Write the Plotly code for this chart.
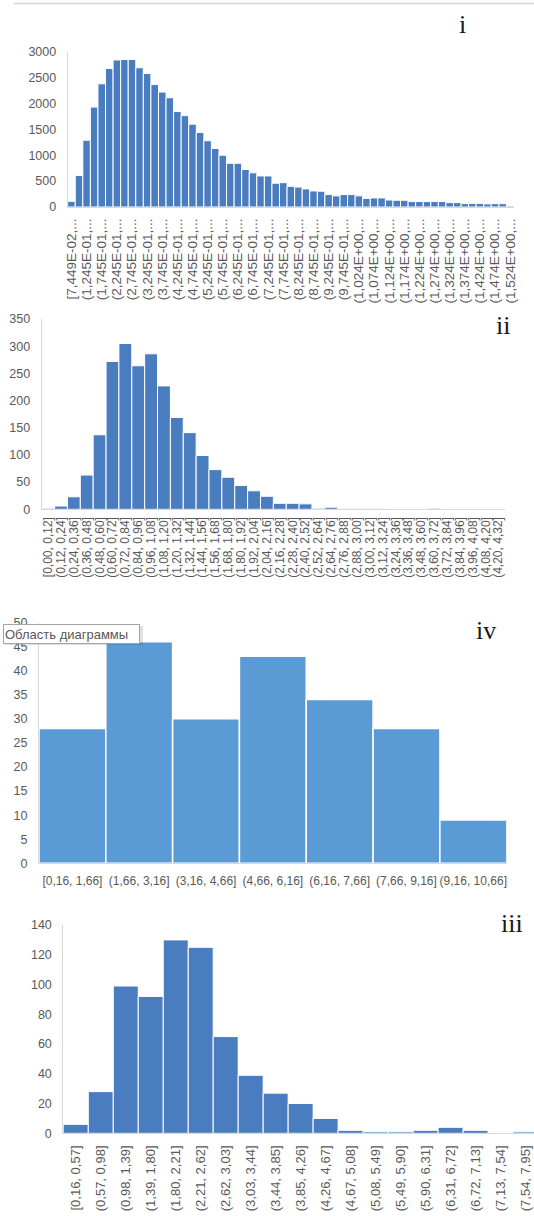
import plotly.graph_objects as go

W, H = 534, 1216

# ---------------- Panel i ----------------
bins_i = [
    "[7,449E-02,...", "(9,949E-02,...", "(1,245E-01,...", "(1,495E-01,...", "(1,745E-01,...",
    "(1,995E-01,...", "(2,245E-01,...", "(2,495E-01,...", "(2,745E-01,...", "(2,995E-01,...",
    "(3,245E-01,...", "(3,495E-01,...", "(3,745E-01,...", "(3,995E-01,...", "(4,245E-01,...",
    "(4,495E-01,...", "(4,745E-01,...", "(4,995E-01,...", "(5,245E-01,...", "(5,495E-01,...",
    "(5,745E-01,...", "(5,995E-01,...", "(6,245E-01,...", "(6,495E-01,...", "(6,745E-01,...",
    "(6,995E-01,...", "(7,245E-01,...", "(7,495E-01,...", "(7,745E-01,...", "(7,995E-01,...",
    "(8,245E-01,...", "(8,495E-01,...", "(8,745E-01,...", "(8,995E-01,...", "(9,245E-01,...",
    "(9,495E-01,...", "(9,745E-01,...", "(9,995E-01,...", "(1,024E+00,...", "(1,049E+00,...",
    "(1,074E+00,...", "(1,099E+00,...", "(1,124E+00,...", "(1,149E+00,...", "(1,174E+00,...",
    "(1,199E+00,...", "(1,224E+00,...", "(1,249E+00,...", "(1,274E+00,...", "(1,299E+00,...",
    "(1,324E+00,...", "(1,349E+00,...", "(1,374E+00,...", "(1,399E+00,...", "(1,424E+00,...",
    "(1,449E+00,...", "(1,474E+00,...", "(1,499E+00,...", "(1,524E+00,...",
]
counts_i = [
    110, 610, 1290, 1930, 2380, 2675, 2840, 2850, 2850, 2690,
    2580, 2365, 2220, 2110, 1845, 1765, 1600, 1440, 1280, 1130,
    1000, 845, 845, 725, 660, 600, 600, 460, 470, 400,
    385, 350, 310, 305, 240, 215, 240, 240, 215, 165,
    175, 175, 135, 130, 130, 105, 105, 105, 105, 105,
    85, 85, 65, 70, 70, 60, 65, 65, 20,
]
yticks_i = [0, 500, 1000, 1500, 2000, 2500, 3000]

# ---------------- Panel ii ----------------
bins_ii = [
    "[0,00, 0,12]", "(0,12, 0,24]", "(0,24, 0,36]", "(0,36, 0,48]", "(0,48, 0,60]", "(0,60, 0,72]",
    "(0,72, 0,84]", "(0,84, 0,96]", "(0,96, 1,08]", "(1,08, 1,20]", "(1,20, 1,32]", "(1,32, 1,44]",
    "(1,44, 1,56]", "(1,56, 1,68]", "(1,68, 1,80]", "(1,80, 1,92]", "(1,92, 2,04]", "(2,04, 2,16]",
    "(2,16, 2,28]", "(2,28, 2,40]", "(2,40, 2,52]", "(2,52, 2,64]", "(2,64, 2,76]", "(2,76, 2,88]",
    "(2,88, 3,00]", "(3,00, 3,12]", "(3,12, 3,24]", "(3,24, 3,36]", "(3,36, 3,48]", "(3,48, 3,60]",
    "(3,60, 3,72]", "(3,72, 3,84]", "(3,84, 3,96]", "(3,96, 4,08]", "(4,08, 4,20]", "(4,20, 4,32]",
]
counts_ii = [
    2, 6, 23, 63, 137, 272, 305, 264, 286, 227, 169, 141,
    99, 73, 59, 44, 34, 24, 11, 11, 10, 2, 4, 1,
    1, 1, 1, 0, 0, 0, 2, 0, 0, 0, 0, 0,
]
yticks_ii = [0, 50, 100, 150, 200, 250, 300, 350]

# ---------------- Panel iv ----------------
bins_iv = ["[0,16, 1,66]", "(1,66, 3,16]", "(3,16, 4,66]", "(4,66, 6,16]",
           "(6,16, 7,66]", "(7,66, 9,16]", "(9,16, 10,66]"]
counts_iv = [28, 46, 30, 43, 34, 28, 9]
yticks_iv = [0, 5, 10, 15, 20, 25, 30, 35, 40, 45, 50]

# ---------------- Panel iii ----------------
bins_iii = [
    "[0,16, 0,57]", "(0,57, 0,98]", "(0,98, 1,39]", "(1,39, 1,80]", "(1,80, 2,21]",
    "(2,21, 2,62]", "(2,62, 3,03]", "(3,03, 3,44]", "(3,44, 3,85]", "(3,85, 4,26]",
    "(4,26, 4,67]", "(4,67, 5,08]", "(5,08, 5,49]", "(5,49, 5,90]", "(5,90, 6,31]",
    "(6,31, 6,72]", "(6,72, 7,13]", "(7,13, 7,54]", "(7,54, 7,95]",
]
counts_iii = [6, 28, 99, 92, 130, 125, 65, 39, 27, 20, 10, 2, 1, 1, 2, 4, 2, 0, 1]
yticks_iii = [0, 20, 40, 60, 80, 100, 120, 140]

panel_labels = ["i", "ii", "iv", "iii"]
tooltip_text = "Область диаграммы"

BLUE = "#4a7cc0"
BLUE_LIGHT = "#5b9bd5"
GREY_TXT = "#595959"
AXIS_LINE = "#d9d9d9"
FONT = "Liberation Sans"


def px_x(p):
    return p / W


def px_y(p):
    return 1 - p / H


fig = go.Figure()
fig.add_trace(go.Bar(x=bins_i, y=counts_i, xaxis="x", yaxis="y",
                     marker=dict(color=BLUE, line=dict(color="white", width=1))))
fig.add_trace(go.Bar(x=bins_ii, y=counts_ii, xaxis="x2", yaxis="y2",
                     marker=dict(color=BLUE, line=dict(color="white", width=1))))
fig.add_trace(go.Bar(x=bins_iv, y=counts_iv, xaxis="x3", yaxis="y3",
                     marker=dict(color=BLUE_LIGHT, line=dict(color="white", width=1.5))))
fig.add_trace(go.Bar(x=bins_iii, y=counts_iii, xaxis="x4", yaxis="y4",
                     marker=dict(color=BLUE, line=dict(color="white", width=1))))


def xaxis(domain_px, anchor, cats, tickvals, rng, angle, size, standoff):
    return dict(domain=[px_x(domain_px[0]), px_x(domain_px[1])], anchor=anchor,
                type="category", categoryorder="array", categoryarray=cats,
                tickmode="array", tickvals=tickvals, tickangle=angle,
                range=rng, showgrid=False, zeroline=False, fixedrange=True,
                showline=True, linecolor=AXIS_LINE, linewidth=1, ticks="",
                automargin=False, ticklabelstandoff=standoff,
                tickfont=dict(family=FONT, size=size, color=GREY_TXT))


def yaxis(domain_px, anchor, rng, tickvals):
    return dict(domain=[px_y(domain_px[0]), px_y(domain_px[1])], anchor=anchor,
                range=rng, tickmode="array", tickvals=tickvals,
                showgrid=False, zeroline=False, showline=True, fixedrange=True,
                linecolor=AXIS_LINE, linewidth=1, ticks="",
                automargin=False, ticklabelstandoff=8,
                tickfont=dict(family=FONT, size=12.5, color=GREY_TXT))


fig.update_layout(
    width=W, height=H, margin=dict(l=0, r=0, t=0, b=0, autoexpand=False),
    paper_bgcolor="white", plot_bgcolor="white",
    showlegend=False, bargap=0, hovermode=False,
    xaxis=xaxis((67.7, 514), "y", bins_i, bins_i[::2], [-0.5, 58.5], -90, 13.5, 5),
    yaxis=yaxis((207, 51.7), "x", [0, 3000], yticks_i),
    xaxis2=xaxis((41.7, 505), "y2", bins_ii, bins_ii, [-0.5, 35.5], -90, 12, 2),
    yaxis2=yaxis((509.3, 319), "x2", [0, 350], yticks_ii),
    xaxis3=xaxis((39, 506.7), "y3", bins_iv, bins_iv, [-0.5, 6.5], 0, 12, 6),
    yaxis3=yaxis((863.3, 622.5), "x3", [0, 50], yticks_iv),
    xaxis4=xaxis((63.3, 534), "y4", bins_iii, bins_iii, [-0.5, 18.34], -90, 13, 6),
    yaxis4=yaxis((1133.3, 925), "x4", [0, 140], yticks_iii),
)

# top separator line
fig.add_shape(type="line", xref="paper", yref="paper",
              x0=px_x(14), x1=1, y0=px_y(3.5), y1=px_y(3.5),
              line=dict(color="#d4d4d4", width=1.5))

# panel labels
label_pos = [(462, 24), (503, 325), (486, 630), (512, 924)]
for txt, (lx, ly) in zip(panel_labels, label_pos):
    fig.add_annotation(text=txt, xref="paper", yref="paper", x=px_x(lx), y=px_y(ly),
                       xanchor="center", yanchor="middle", showarrow=False,
                       font=dict(family="Liberation Serif", size=26, color="#1a1a1a"))

# tooltip box in panel iv
fig.add_shape(type="rect", xref="paper", yref="paper", layer="above",
              x0=px_x(5), x1=px_x(143), y0=px_y(626), y1=px_y(645),
              fillcolor="rgba(0,0,0,0.12)", line=dict(width=0))
fig.add_annotation(text=tooltip_text, xref="paper", yref="paper",
                   x=px_x(3), y=px_y(623.5), xanchor="left", yanchor="top",
                   showarrow=False, width=133, height=16, align="left",
                   bgcolor="white", bordercolor="#a6a6a6", borderwidth=1, borderpad=1,
                   font=dict(family=FONT, size=13, color=GREY_TXT))

fig.write_html("out.html", config={"displayModeBar": False, "staticPlot": True},
               post_script="document.body.style.margin='0';")
